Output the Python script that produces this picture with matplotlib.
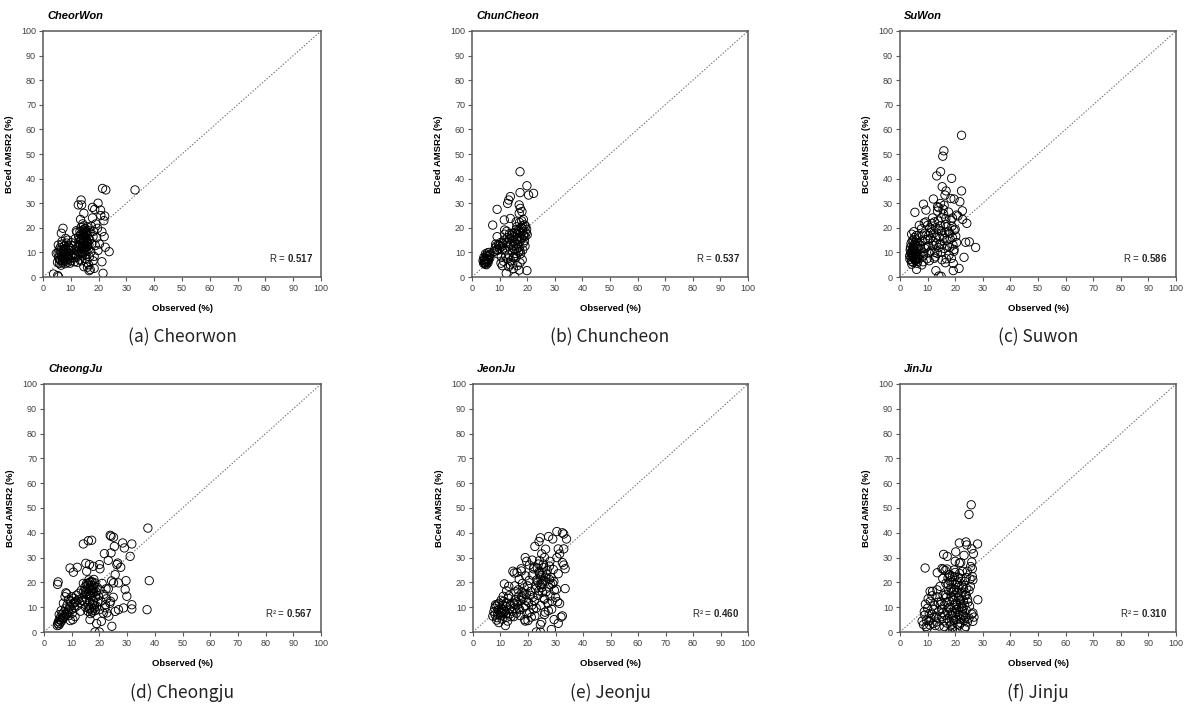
import matplotlib
matplotlib.use("Agg")
import matplotlib.pyplot as plt

plt.rcParams['font.family'] = ['Liberation Sans', 'DejaVu Sans']
plt.rcParams['mathtext.fontset'] = 'custom'
plt.rcParams['mathtext.rm'] = 'Liberation Sans'
plt.rcParams['mathtext.bf'] = 'Liberation Sans:bold'

# ---------------- data ----------------
stations = ["CheorWon", "ChunCheon", "SuWon", "CheongJu", "JeonJu", "JinJu"]
captions = ["(a) Cheorwon", "(b) Chuncheon", "(c) Suwon", "(d) Cheongju", "(e) Jeonju", "(f) Jinju"]
stat_labels = ["R = ", "R = ", "R = ", "R\u00b2 = ", "R\u00b2 = ", "R\u00b2 = "]
stat_values = ["0.517", "0.537", "0.586", "0.567", "0.460", "0.310"]

cheorwon_obs = [
    5.2, 5.6, 5.9, 6.1, 6.4, 6.7, 7.0, 7.2, 7.5, 7.8,
    8.0, 8.3, 8.6, 8.9, 9.2, 9.5, 9.8, 10.1, 10.4, 10.8,
    5.4, 6.2, 6.9, 7.7, 8.5, 9.3, 10.0, 11.0, 11.4, 6.5,
    7.4, 8.8, 9.7, 10.6, 5.8, 7.1, 8.1, 9.0, 4.8, 11.8,
    6.6, 7.2, 8.1, 9.0, 5.6, 5.3, 3.8, 6.8, 5.5, 10.2,
    6.0, 6.8, 7.6, 8.4, 9.2, 10.0, 7.0, 8.0, 9.0, 6.4,
    12.0, 12.3, 12.6, 12.9, 13.2, 13.5, 13.8, 14.1, 14.4, 14.7,
    15.0, 15.3, 15.6, 15.9, 16.2, 16.5, 16.8, 12.4, 12.8, 13.3,
    13.7, 14.2, 14.6, 15.1, 15.5, 15.9, 16.3, 16.7, 13.0, 13.6,
    14.0, 14.5, 14.9, 15.4, 15.8, 16.1, 14.3, 14.8, 15.2, 13.9,
    15.7, 16.4, 16.9, 12.2, 17.2, 17.6, 18.0, 18.4, 18.8, 19.3,
    19.8, 20.3, 17.4, 18.2, 19.0, 19.6, 16.0, 16.6, 15.3, 14.7,
    13.1, 13.4, 13.7, 14.0, 14.3, 14.6, 14.9, 15.2, 15.5, 15.8,
    13.2, 13.6, 14.0, 14.4, 14.8, 15.2, 15.6, 16.0, 14.2, 14.6,
    33.1, 21.4, 22.6, 13.7, 13.9, 12.7, 19.8, 18.6, 20.7, 17.8,
    22.2, 21.9, 14.7, 21.2, 22.0, 22.4, 23.8, 21.2, 21.6, 18.4,
    17.8, 13.5, 12.0, 11.6, 20.8, 18.0, 17.0,
]
cheorwon_bced = [
    6.0, 7.8, 5.5, 9.2, 6.8, 8.5, 5.8, 10.4, 7.2, 9.0,
    6.4, 11.2, 8.0, 6.0, 9.6, 7.4, 10.8, 6.6, 8.8, 7.8,
    9.8, 12.0, 13.4, 12.6, 13.8, 12.2, 11.6, 9.4, 6.2, 4.8,
    8.0, 7.2, 5.6, 12.8, 11.0, 6.6, 9.8, 8.4, 9.6, 8.6,
    17.8, 19.8, 15.7, 15.0, 0.1, 0.6, 1.2, 14.4, 13.0, 14.0,
    7.0, 9.6, 11.4, 10.0, 11.0, 9.0, 7.6, 5.4, 12.8, 10.8,
    8.0, 10.5, 12.4, 14.2, 7.0, 9.4, 11.6, 13.8, 16.0, 18.2,
    10.2, 12.4, 14.6, 16.8, 19.0, 13.0, 15.2, 6.0, 16.4, 18.6,
    20.2, 8.6, 11.0, 13.4, 17.8, 20.4, 11.4, 8.2, 12.0, 14.8,
    15.8, 13.0, 19.6, 15.6, 12.2, 14.0, 21.6, 16.6, 9.0, 6.6,
    6.0, 5.0, 18.0, 18.2, 10.2, 13.6, 16.4, 8.4, 12.8, 16.0,
    10.8, 13.4, 20.6, 18.6, 21.6, 19.8, 4.0, 2.6, 7.4, 4.2,
    10.0, 12.8, 15.0, 17.2, 12.2, 14.4, 17.0, 19.6, 10.6, 13.6,
    15.6, 17.4, 10.4, 19.0, 11.8, 16.2, 18.4, 12.6, 9.8, 20.8,
    35.4, 36.0, 35.4, 31.3, 29.3, 29.3, 30.0, 27.5, 27.2, 28.3,
    24.8, 22.9, 25.9, 18.4, 16.4, 12.1, 10.3, 6.2, 1.5, 3.5,
    24.0, 23.4, 18.8, 15.6, 25.0, 6.6, 3.0,
]

chuncheon_obs = [
    4.2, 4.5, 4.8, 5.1, 5.4, 5.7, 6.0, 6.3, 4.4, 4.9,
    5.3, 5.8, 6.2, 4.6, 5.0, 5.6, 6.5, 4.0, 5.2, 6.0,
    4.3, 4.7, 5.5, 5.9, 6.4,
    8.0, 8.4, 8.8, 9.2, 9.6, 10.0, 10.4, 10.8, 11.2, 11.6,
    12.0, 12.4, 12.8, 13.2, 13.6, 14.0, 14.4, 14.8, 15.2, 15.6,
    16.0, 16.4, 16.8, 17.2, 17.6, 18.0, 18.4, 18.8, 19.2, 19.6,
    16.2, 16.6, 17.0, 17.4, 17.8, 18.2, 18.6, 15.4, 15.8, 14.6,
    13.4, 13.0, 12.2, 11.4, 14.0, 14.8, 15.0, 16.0, 16.8, 17.6,
    18.4, 19.0, 10.6, 9.4, 11.8, 12.6, 17.2, 18.0, 19.4, 20.0,
    16.4, 15.0, 13.8, 18.2, 17.4, 19.2,
    14.2, 14.8, 15.4, 16.0, 16.6, 17.2, 17.8, 18.4, 19.0, 15.0,
    16.2, 17.4, 18.6, 13.6, 12.8, 11.0, 10.0, 9.0, 8.6, 19.8,
    17.4, 19.9, 17.4, 20.5, 22.3, 13.9, 13.3, 12.9, 9.1, 17.1,
    17.5, 18.1, 17.1, 13.9, 11.7, 7.5, 11.8, 9.1, 10.5, 12.4,
    15.5, 19.9, 17.1, 13.3, 15.1, 11.0, 16.0, 18.6,
]
chuncheon_bced = [
    5.6, 6.8, 5.2, 7.6, 6.2, 8.4, 7.0, 9.0, 7.2, 9.4,
    8.8, 5.8, 10.0, 6.0, 6.4, 9.8, 7.8, 6.6, 5.0, 8.2,
    8.0, 5.6, 7.4, 6.8, 8.8,
    10.4, 11.8, 12.6, 10.8, 13.2, 11.6, 14.0, 12.4, 13.6, 15.0,
    11.0, 14.2, 16.0, 12.6, 15.4, 13.0, 17.0, 14.6, 16.4, 18.2,
    15.2, 17.6, 19.0, 16.2, 17.8, 15.8, 18.6, 17.0, 16.6, 18.0,
    20.4, 13.4, 12.0, 14.4, 20.2, 19.6, 13.8, 11.2, 9.6, 10.6,
    9.0, 7.4, 8.6, 6.4, 6.6, 5.6, 7.8, 8.0, 10.2, 9.4,
    11.0, 21.2, 8.2, 9.4, 17.4, 18.6, 22.2, 22.8, 20.6, 17.2,
    4.6, 3.4, 5.0, 7.0, 5.8, 12.6,
    15.8, 17.8, 13.8, 19.2, 15.8, 18.6, 16.0, 20.8, 14.8, 12.6,
    11.4, 10.6, 16.8, 17.6, 13.8, 11.0, 12.8, 11.2, 13.4, 19.4,
    42.8, 37.1, 34.3, 33.3, 34.0, 32.7, 31.3, 29.9, 27.5, 29.3,
    27.9, 26.6, 25.9, 23.8, 23.2, 21.1, 19.1, 16.4, 5.6, 1.5,
    0.1, 2.6, 2.8, 4.2, 8.3, 4.6, 22.4, 23.4,
]

suwon_obs = [
    3.6, 3.9, 4.2, 4.5, 4.8, 5.1, 5.4, 5.7, 6.0, 6.3,
    3.8, 4.1, 4.4, 4.7, 5.0, 5.3, 5.6, 5.9, 6.2, 6.6,
    4.0, 4.6, 5.2, 5.8, 6.4, 3.7, 4.3, 4.9, 5.5, 6.9,
    3.5, 4.2, 5.0, 5.6, 6.1, 6.8, 7.2, 4.8, 5.3, 6.4,
    4.4, 5.0, 5.6, 6.2, 4.0, 4.8, 5.4, 6.0, 6.6, 7.4,
    7.5, 8.0, 8.5, 9.0, 9.5, 10.0, 10.5, 11.0, 11.5, 12.0,
    12.5, 13.0, 13.5, 14.0, 14.5, 15.0, 15.5, 16.0, 16.5, 17.0,
    17.5, 18.0, 18.5, 19.0, 19.5, 20.0, 20.5, 21.0, 7.8, 8.8,
    9.8, 10.8, 11.8, 12.8, 13.8, 14.8, 15.8, 16.8, 17.8, 18.8,
    9.2, 10.2, 11.2, 12.2, 13.2, 14.2, 15.2, 16.2, 17.2, 18.2,
    19.2, 20.2, 8.4, 10.6, 12.4, 14.6, 16.6, 18.6, 7.0, 11.6,
    13.6, 15.6, 17.6, 19.6, 9.4, 14.0, 15.2, 16.4,
    8.2, 9.0, 10.0, 11.0, 12.0, 13.0, 14.0, 15.0, 16.0, 17.0,
    18.0, 8.6, 10.4, 12.6,
    22.3, 15.9, 15.5, 14.7, 13.3, 18.7, 15.3, 22.3, 16.7, 16.3,
    18.4, 19.6, 12.1, 21.7, 8.5, 9.4, 5.4, 22.6, 14.7, 16.0,
    20.5, 22.7, 24.2, 25.1, 23.8, 27.4, 23.2, 19.3, 19.3, 21.4,
    13.0, 14.1, 14.9, 6.0, 7.9, 13.6, 19.0, 19.6,
]
suwon_bced = [
    7.2, 9.6, 6.4, 11.4, 8.4, 13.2, 6.8, 10.2, 15.0, 8.0,
    12.0, 8.2, 14.6, 6.0, 10.6, 7.6, 12.8, 16.8, 5.6, 11.6,
    10.0, 9.0, 16.0, 8.8, 13.8, 11.0, 5.2, 12.2, 7.0, 7.4,
    8.6, 17.4, 18.4, 14.0, 9.4, 17.0, 9.2, 7.8, 9.8, 6.4,
    9.2, 11.8, 9.0, 12.4, 13.6, 15.0, 10.8, 7.2, 8.6, 13.0,
    11.4, 14.6, 8.6, 17.8, 12.2, 21.0, 9.8, 15.6, 19.4, 12.8,
    22.4, 16.2, 9.6, 19.0, 13.4, 24.0, 17.0, 11.6, 21.4, 15.0,
    18.6, 12.0, 23.0, 16.0, 10.4, 19.4, 14.0, 24.8, 19.6, 22.0,
    7.4, 20.0, 24.0, 8.2, 22.8, 10.0, 25.6, 7.4, 9.0, 20.6,
    15.2, 12.6, 10.6, 17.8, 13.8, 16.4, 13.2, 18.2, 12.6, 15.4,
    13.0, 16.6, 6.2, 6.6, 7.6, 20.8, 23.8, 7.6, 21.0, 21.8,
    26.8, 27.6, 26.4, 11.2, 22.4, 28.2, 7.0, 5.8,
    17.0, 11.6, 15.4, 18.0, 14.6, 20.0, 12.0, 18.8, 15.6, 20.4,
    17.8, 9.8, 16.8, 10.0,
    57.6, 51.3, 49.1, 42.8, 41.1, 40.1, 36.7, 35.0, 35.0, 33.3,
    31.9, 31.7, 31.7, 30.6, 29.6, 27.2, 26.3, 26.9, 29.9, 29.2,
    25.2, 23.4, 21.8, 14.3, 14.1, 12.0, 8.0, 5.5, 2.6, 3.5,
    2.6, 0.4, 0.3, 3.1, 4.9, 28.6, 24.0, 19.0,
]

cheongju_obs = [
    4.8, 5.0, 5.2, 5.4, 5.6, 5.8, 6.0, 6.3, 6.6, 6.9,
    7.2, 7.5, 7.8, 8.1, 8.4, 8.7, 9.0, 9.3, 9.6, 9.9,
    10.2, 10.5, 10.8, 11.1, 11.4, 11.7, 12.0, 12.3, 12.6, 12.9,
    5.5, 6.2, 7.0, 7.6, 8.2, 8.9, 9.5, 10.4, 11.2, 13.2,
    4.9, 5.1, 7.9, 10.0, 13.5,
    6.0, 7.0, 8.0, 9.0, 11.0,
    14.0, 14.4, 14.8, 15.2, 15.6, 16.0, 16.4, 16.8, 17.2, 17.6,
    18.0, 18.4, 18.8, 19.2, 14.6, 15.4, 16.2, 17.0, 17.8, 18.6,
    15.8, 16.6, 17.4, 18.2, 19.0, 16.0, 16.8, 17.6, 18.4, 19.4,
    15.0, 16.4, 17.2, 18.0, 19.6, 20.2, 20.6, 21.0, 21.6, 22.2,
    14.2, 13.8, 20.0, 21.4, 22.6, 23.2, 23.8, 24.4, 25.0, 22.0,
    15.0, 15.6, 16.2, 16.8, 17.4, 18.0, 15.4, 16.0, 16.6, 17.2,
    17.8, 16.4, 17.0, 17.6, 18.2,
    37.5, 23.9, 24.2, 25.1, 14.2, 16.0, 17.2, 28.4, 31.7, 25.4,
    29.0, 24.2, 21.8, 31.1, 23.2, 26.6, 26.3, 27.7, 15.1, 16.4,
    17.8, 20.2, 20.0, 9.4, 12.0, 10.6, 15.4, 25.7, 25.1, 29.6,
    38.0, 26.9, 37.2, 31.7, 31.7, 29.9, 29.3, 24.5, 18.4, 20.0,
    19.0, 20.7, 22.7, 25.7, 26.9, 28.7, 16.6, 23.4, 24.0, 22.4,
]
cheongju_bced = [
    2.6, 3.4, 4.2, 2.8, 5.0, 3.6, 6.0, 4.4, 7.2, 5.4,
    8.0, 6.2, 9.6, 7.0, 11.0, 8.4, 6.6, 10.2, 12.4, 9.0,
    7.6, 11.4, 13.6, 9.8, 12.2, 14.8, 10.6, 13.0, 15.6, 11.8,
    7.0, 8.6, 11.6, 14.2, 15.4, 13.0, 4.6, 5.0, 6.2, 8.4,
    19.2, 20.2, 15.8, 14.2, 16.8,
    4.8, 6.0, 7.6, 9.2, 12.0,
    14.0, 16.4, 18.2, 15.0, 17.4, 19.6, 14.6, 16.8, 18.8, 15.8,
    17.6, 19.8, 16.2, 18.0, 12.2, 13.2, 21.0, 20.4, 12.6, 14.0,
    8.4, 9.2, 8.0, 9.6, 10.4, 10.8, 7.4, 11.2, 8.6, 12.0,
    10.0, 12.2, 14.4, 21.2, 14.6, 17.0, 12.4, 19.6, 15.2, 11.0,
    19.6, 12.6, 9.0, 7.6, 13.4, 17.4, 11.6, 20.6, 14.0, 9.8,
    16.0, 18.8, 17.2, 15.2, 20.2, 16.0, 19.6, 15.4, 20.0, 17.0,
    18.6, 9.6, 10.0, 8.8, 10.8,
    41.9, 39.0, 38.6, 38.2, 35.5, 36.8, 37.0, 35.9, 35.5, 34.5,
    33.9, 31.9, 31.6, 30.5, 28.9, 27.8, 27.2, 26.1, 27.7, 27.2,
    26.5, 25.5, 27.2, 25.8, 26.1, 24.1, 24.5, 23.1, 19.8, 20.7,
    20.7, 19.8, 9.0, 9.3, 11.0, 14.4, 17.1, 2.3, 0.0, 0.0,
    3.4, 4.3, 7.7, 8.3, 9.0, 9.7, 5.0, 6.4, 12.4, 17.4,
]

jeonju_obs = [
    7.2, 7.6, 8.0, 8.4, 8.8, 9.2, 9.6, 10.0, 10.4, 10.8,
    11.2, 11.6, 12.0, 12.4, 12.8, 13.2, 13.6, 7.9, 8.6, 9.4,
    10.2, 11.0, 11.8, 12.6, 13.4, 9.0, 10.6, 12.2, 11.4, 13.8,
    8.2, 9.8, 11.0, 12.0, 13.0,
    9.0, 9.6, 10.2, 10.8, 11.4, 12.2,
    14.2, 14.6, 15.0, 15.4, 15.8, 16.2, 16.6, 17.0, 17.4, 17.8,
    18.2, 18.6, 19.0, 19.4, 19.8, 20.2, 20.6, 21.0, 21.4, 21.8,
    14.8, 15.6, 16.4, 17.2, 18.0, 18.8, 19.6, 20.4, 21.2, 22.0,
    15.2, 16.0, 17.6, 18.4, 19.2, 20.0, 15.0, 16.8, 19.0,
    15.2, 16.6, 17.8, 18.6, 19.6, 20.8,
    22.4, 22.8, 23.2, 23.6, 24.0, 24.4, 24.8, 25.2, 25.6, 26.0,
    26.4, 26.8, 27.2, 27.6, 28.0, 28.4, 28.8, 29.2, 29.6, 30.0,
    23.0, 23.8, 24.6, 25.4, 26.2, 27.0, 27.8, 28.6, 29.4, 30.4,
    22.2, 24.2, 25.8, 27.4, 30.8, 21.6, 23.4, 25.0, 26.6, 28.2,
    24.0, 25.2, 26.0,
    23.6, 24.6, 25.0, 26.4, 27.8, 24.2, 25.6, 23.0,
    30.5, 32.5, 33.0, 34.0, 27.5, 24.5, 24.0, 22.5, 31.0, 33.0,
    31.5, 30.5, 32.5, 33.0, 33.5, 25.0, 26.0, 28.0, 21.5, 19.0,
    19.5, 20.5, 17.5, 14.5, 16.0, 22.0, 31.0, 29.0, 33.5, 31.5,
    32.5, 32.0, 31.0, 29.5, 28.5, 24.5, 23.0, 24.5, 22.5, 25.0,
    29.0, 26.4, 13.0,
]
jeonju_bced = [
    6.4, 8.2, 7.0, 10.4, 5.8, 8.8, 11.6, 6.6, 9.4, 7.6,
    12.4, 8.4, 10.2, 6.0, 13.6, 9.2, 11.0, 9.6, 4.8, 3.8,
    12.8, 14.4, 2.6, 4.4, 7.2, 11.2, 5.2, 16.6, 19.4, 6.2,
    11.0, 7.8, 9.0, 7.4, 14.6,
    7.2, 9.2, 7.8, 10.8, 8.2, 11.8,
    8.4, 11.6, 9.6, 13.0, 7.6, 11.0, 14.4, 9.0, 12.6, 16.0,
    13.4, 17.8, 10.6, 15.2, 18.6, 12.0, 8.0, 16.4, 10.8, 14.0,
    6.2, 16.2, 17.0, 6.6, 19.6, 5.0, 7.4, 20.8, 6.0, 9.2,
    18.6, 12.2, 24.6, 9.8, 22.6, 4.6, 23.8, 21.2, 4.4,
    11.2, 9.6, 14.2, 15.6, 12.6, 14.8,
    12.6, 17.4, 21.0, 14.8, 24.2, 19.0, 22.6, 16.0, 26.0, 13.2,
    20.4, 23.2, 11.6, 18.2, 14.6, 22.0, 12.4, 25.2, 16.8, 14.0,
    9.6, 27.4, 10.8, 20.2, 8.0, 24.8, 26.6, 9.2, 20.4, 17.2,
    26.2, 28.8, 13.6, 8.6, 12.2, 23.0, 25.8, 18.0, 16.2, 19.2,
    16.6, 24.0, 7.0,
    20.0, 21.8, 19.4, 22.2, 21.2, 23.6, 27.4, 18.6,
    40.5, 40.0, 39.5, 37.5, 38.5, 38.0, 36.5, 34.5, 33.5, 33.5,
    31.5, 30.0, 28.0, 27.0, 25.5, 31.5, 30.0, 28.5, 29.0, 30.0,
    28.5, 27.0, 25.5, 24.5, 24.0, 25.5, 23.5, 19.5, 17.5, 11.5,
    6.5, 6.0, 3.5, 5.0, 1.0, 0.0, 0.0, 3.0, 6.5, 4.0,
    37.5, 33.4, 18.4,
]

jinju_obs = [
    8.0, 8.5, 9.0, 9.5, 10.0, 10.5, 11.0, 11.5, 12.0, 12.5,
    13.0, 13.5, 14.0, 8.8, 9.8, 10.8, 11.8, 12.8, 13.8, 9.2,
    10.2, 11.2, 12.2, 13.2, 14.2, 9.6, 10.6, 11.6,
    12.6, 13.4, 14.6, 15.6,
    14.5, 15.0, 15.5, 16.0, 16.5, 17.0, 17.5, 18.0, 18.5, 19.0,
    19.5, 20.0, 20.5, 21.0, 21.5, 22.0, 22.5, 23.0, 23.5, 24.0,
    24.5, 25.0, 25.5, 26.0, 14.8, 15.6, 16.4, 17.2, 18.0, 18.8,
    19.6, 20.4, 21.2, 22.0, 22.8, 23.6, 24.4, 25.2, 16.0, 17.0,
    18.0, 19.0, 20.0, 21.0, 22.0, 23.0, 24.0, 25.0, 15.2, 17.6,
    19.2, 20.8, 22.4, 23.8, 15.8, 17.4, 19.0, 20.6, 22.2, 23.6,
    16.6, 18.2, 19.8, 21.4, 23.0, 24.6, 16.2, 18.6, 20.2, 21.8,
    23.4, 25.4, 17.8, 19.4, 21.0, 22.6, 24.2, 20.0, 21.6, 18.4,
    17.0, 19.6, 21.2, 22.6,
    16.8, 17.6, 18.4, 19.2, 20.0, 20.8, 21.6, 22.4, 23.2, 24.0,
    18.8, 19.8, 20.6, 21.8, 22.8, 17.2, 18.0, 19.4, 20.4, 21.4,
    25.8, 25.0, 23.9, 21.5, 28.1, 24.2, 26.0, 26.6, 15.8, 17.1,
    20.2, 23.2, 20.0, 21.5, 26.0, 9.1, 26.2, 24.4, 26.2, 26.4,
    28.2, 13.5, 15.7, 10.9, 18.1, 20.0, 26.4, 26.4, 26.8, 25.6,
    22.0, 15.2, 19.0, 23.4,
]
jinju_bced = [
    4.4, 3.0, 6.8, 2.2, 9.6, 4.6, 12.4, 7.2, 3.4, 10.8,
    5.8, 14.2, 8.4, 8.2, 1.4, 2.8, 16.4, 2.6, 12.0, 11.2,
    13.4, 5.4, 9.0, 4.0, 2.4, 4.8, 7.4, 14.6,
    6.4, 17.0, 11.0, 7.8,
    18.4, 6.2, 21.6, 10.8, 15.0, 3.6, 19.2, 12.4, 7.0, 22.4,
    4.6, 14.6, 9.2, 18.0, 2.8, 11.6, 16.2, 6.4, 20.4, 8.8,
    13.2, 5.6, 18.4, 7.2, 12.2, 14.8, 24.8, 8.0, 20.6, 16.0,
    10.6, 5.0, 13.8, 21.6, 9.6, 15.0, 4.0, 10.4, 2.2, 12.0,
    4.2, 8.0, 24.0, 7.0, 3.6, 12.6, 22.0, 16.8, 9.2, 16.6,
    13.0, 20.0, 18.8, 2.2, 4.4, 21.8, 2.0, 11.0, 14.4, 6.0,
    19.6, 10.0, 17.2, 9.8, 18.0, 12.0, 6.8, 14.2, 7.6, 5.2,
    10.8, 21.4, 23.0, 5.6, 16.0, 8.4, 17.6, 19.2, 23.6, 2.8,
    25.4, 25.0, 22.0, 24.4,
    14.0, 9.6, 17.8, 6.6, 11.4, 3.2, 6.8, 10.2, 4.6, 14.8,
    20.2, 22.2, 15.8, 12.8, 7.0, 5.4, 23.2, 16.6, 9.0, 18.8,
    51.3, 47.4, 36.3, 35.9, 35.5, 35.1, 33.5, 31.6, 31.3, 30.5,
    32.3, 30.9, 28.5, 27.8, 28.2, 25.8, 25.5, 24.5, 22.4, 21.0,
    13.0, 23.9, 25.3, 16.4, 0.0, 0.0, 7.7, 4.3, 6.0, 26.4,
    28.0, 25.6, 0.8, 1.4,
]

observed = [cheorwon_obs, chuncheon_obs, suwon_obs, cheongju_obs, jeonju_obs, jinju_obs]
bced = [cheorwon_bced, chuncheon_bced, suwon_bced, cheongju_bced, jeonju_bced, jinju_bced]
ticks = list(range(0, 101, 10))

# ---------------- layout ----------------
W, H = 1190, 709
fig = plt.figure(figsize=(W / 100, H / 100), dpi=100)
boxes = [(43, 31, 321, 277), (472, 31, 748, 277), (900, 31, 1176, 277),
         (44, 384, 321, 632), (473, 384, 748, 632), (900, 384, 1176, 632)]

for i, (l, t, r, b) in enumerate(boxes):
    ax = fig.add_axes([l / W, 1 - b / H, (r - l) / W, (b - t) / H])
    ax.plot([0, 100], [0, 100], linestyle=(0, (1.2, 1.6)), color='#707070', lw=0.8, zorder=1)
    ax.scatter(observed[i], bced[i], s=36, facecolors='none', edgecolors='black',
               linewidths=0.65, zorder=2)
    ax.set_xlim(0, 100)
    ax.set_ylim(0, 100)
    ax.set_xticks(ticks)
    ax.set_yticks(ticks)
    ax.tick_params(labelsize=6.5, labelcolor='#404040', length=3, width=0.8,
                   color='#595959', pad=2)
    for sp in ax.spines.values():
        sp.set_color('#595959')
        sp.set_linewidth(1.1)
    ax.set_xlabel("Observed (%)", fontsize=6.8, fontweight='bold')
    ax.set_ylabel("BCed AMSR2 (%)", fontsize=6.8, fontweight='bold')
    ax.xaxis.set_label_coords(0.5, -0.11)
    ax.yaxis.set_label_coords(-0.105, 0.5)
    ax.text(97, 7.7, stat_labels[i] + r"$\mathbf{" + stat_values[i] + "}$",
            ha='right', va='center', fontsize=7, color='#262626')
    fig.text((l + 4) / W, 1 - (t - 15) / H, stations[i], fontsize=8,
             fontweight='bold', fontstyle='italic', ha='left', va='center')
    cy = 337 if i < 3 else 693
    fig.text(((l + r) / 2) / W, 1 - cy / H, captions[i], fontsize=12.5,
             family=['Noto Sans CJK KR', 'DejaVu Sans'], ha='center', va='center',
             color='#222222')

fig.savefig("out.png", dpi=100)
